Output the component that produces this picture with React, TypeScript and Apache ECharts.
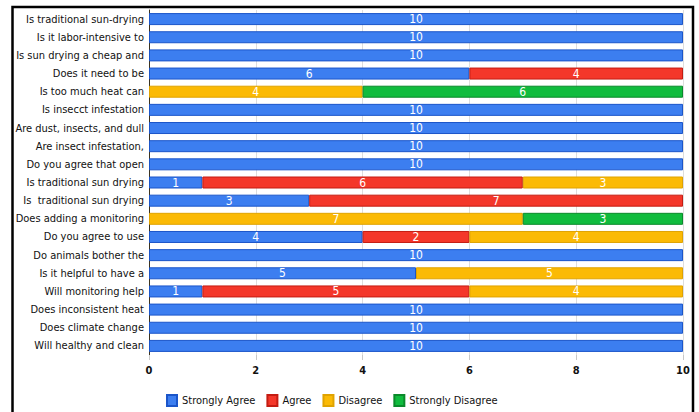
import React, { useEffect, useRef } from "react";
import * as echarts from "echarts";

const categories = [
  "Is traditional sun-drying",
  "Is it labor-intensive to",
  "Is sun drying a cheap and",
  "Does it need to be",
  "Is too much heat can",
  "Is insecct infestation",
  "Are dust, insects, and dull",
  "Are insect infestation,",
  "Do you agree that open",
  "Is traditional sun drying",
  "Is  traditional sun drying",
  "Does adding a monitoring",
  "Do you agree to use",
  "Do animals bother the",
  "Is it helpful to have a",
  "Will monitoring help",
  "Does inconsistent heat",
  "Does climate change",
  "Will healthy and clean",
];

const stronglyAgree = [10, 10, 10, 6, 0, 10, 10, 10, 10, 1, 3, 0, 4, 10, 5, 1, 10, 10, 10];
const agree = [0, 0, 0, 4, 0, 0, 0, 0, 0, 6, 7, 0, 2, 0, 0, 5, 0, 0, 0];
const disagree = [0, 0, 0, 0, 4, 0, 0, 0, 0, 3, 0, 7, 4, 0, 5, 4, 0, 0, 0];
const stronglyDisagree = [0, 0, 0, 0, 6, 0, 0, 0, 0, 0, 0, 3, 0, 0, 0, 0, 0, 0, 0];

const xTicks = [0, 2, 4, 6, 8, 10];

const FONT = "'DejaVu Sans Condensed', 'Liberation Sans', sans-serif";

export default function App() {
  const ref = useRef<HTMLDivElement>(null);
  useEffect(() => {
    if (!ref.current) return;
    const chart = echarts.init(ref.current, undefined, { renderer: "svg" });
    const mk = (name: string, data: number[], color: string, border: string) => ({
      name,
      type: "bar",
      stack: "total",
      barWidth: 12,
      data: data.map((v) => (v > 0 ? v : null)),
      itemStyle: { color, borderColor: border, borderWidth: 1 },
      label: {
        show: true,
        position: "inside",
        color: "#ffffff",
        fontSize: 12,
        fontFamily: FONT,
        formatter: (p: any) => (p.value ? String(p.value) : ""),
      },
    });
    chart.setOption({
      animation: false,
      textStyle: { fontFamily: FONT },
      grid: { left: 149, right: 16, top: 10, bottom: 57, containLabel: false },
      xAxis: {
        type: "value",
        min: xTicks[0],
        max: xTicks[xTicks.length - 1],
        interval: 2,
        axisLine: { show: false },
        axisTick: { show: true, length: 5, lineStyle: { color: "#c8c8c8" } },
        splitLine: { show: true, lineStyle: { color: "#dddddd", width: 1 } },
        axisLabel: { color: "#111", fontSize: 11, margin: 10, fontFamily: FONT, fontWeight: "bold" },
      },
      yAxis: {
        type: "category",
        data: categories,
        inverse: true,
        axisLine: { show: true, lineStyle: { color: "#3a3320", width: 1 } },
        axisTick: { show: false },
        axisLabel: { color: "#111", fontSize: 11, margin: 5, fontFamily: FONT },
      },
      legend: {
        left: 161,
        top: 389,
        itemWidth: 10,
        itemHeight: 11,
        itemGap: 11,
        icon: "rect",
        textStyle: { color: "#111", fontSize: 11, fontFamily: FONT },
      },
      graphic: [
        {
          type: "rect",
          shape: { x: 12.5, y: 7, width: 680.5, height: 430 },
          style: { fill: "none", stroke: "#000", lineWidth: 2.5 },
          silent: true,
        },
      ],
      series: [
        mk("Strongly Agree", stronglyAgree, "#3c7ef0", "#1b55c9"),
        mk("Agree", agree, "#f4372a", "#c41c12"),
        mk("Disagree", disagree, "#fbba05", "#e0a300"),
        mk("Strongly Disagree", stronglyDisagree, "#10bc3e", "#0a8a2b"),
      ],
    });
    return () => chart.dispose();
  }, []);
  return (
    <div
      ref={ref}
      style={{ position: "fixed", left: 0, top: 0, width: 699, height: 412, background: "#fff" }}
    />
  );
}
